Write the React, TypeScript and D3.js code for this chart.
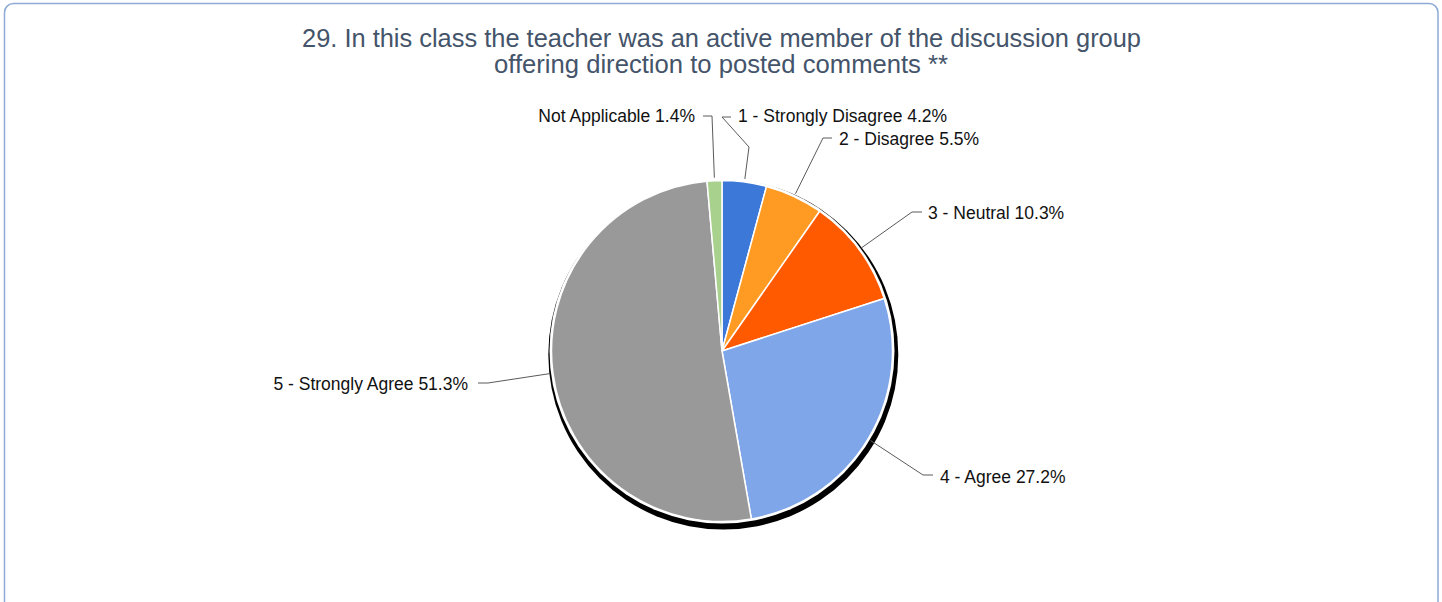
import React from "react";
import * as d3 from "d3";

const titleLines = [
  "29. In this class the teacher was an active member of the discussion group",
  "offering direction to posted comments **",
];
const categories = [
  "1 - Strongly Disagree",
  "2 - Disagree",
  "3 - Neutral",
  "4 - Agree",
  "5 - Strongly Agree",
  "Not Applicable",
];
const percents = [4.2, 5.5, 10.3, 27.2, 51.3, 1.4];
const sliceColors = ["#3c78d8", "#ff9a22", "#ff5a00", "#7ea6e8", "#999999", "#a9d18e"];

// label layout: text position, anchor, and leader bend points (from label side toward the pie)
const labelLayout = [
  { tx: 738, ty: 116, anchor: "start", pts: [[731, 117], [722, 117], [749, 147]] },
  { tx: 839, ty: 139, anchor: "start", pts: [[832, 138], [823, 138]] },
  { tx: 928, ty: 213, anchor: "start", pts: [[922, 212], [912, 212]] },
  { tx: 940, ty: 477, anchor: "start", pts: [[933, 475], [923, 475]] },
  { tx: 468, ty: 384, anchor: "end", pts: [[478, 383], [488, 383]] },
  { tx: 695, ty: 116, anchor: "end", pts: [[703, 116], [712, 116]] },
];

const W = 1442;
const H = 602;
const cx = 722;
const cy = 351;
const R = 170.5;

export default function App() {
  const pie = d3.pie<number>().sort(null).value((d) => d);
  const arcs = pie(percents);
  const arcGen = d3.arc<d3.PieArcDatum<number>>().innerRadius(0).outerRadius(R);
  const line = d3.line();
  const font = "'Liberation Sans', Arial, sans-serif";

  return (
    <svg
      width={W}
      height={H}
      style={{ position: "absolute", left: 0, top: 0, display: "block" }}
      xmlns="http://www.w3.org/2000/svg"
    >
      <rect x={0} y={0} width={W} height={H} fill="#ffffff" />
      <rect
        x={4.5}
        y={3.5}
        width={1433.5}
        height={H + 20}
        rx={9}
        ry={9}
        fill="#ffffff"
        stroke="#8eaad6"
        strokeWidth={1.5}
      />
      <text
        x={721.5}
        y={46.5}
        textAnchor="middle"
        fontFamily={font}
        fontSize={25}
        fill="#44546a"
        textLength={839}
        lengthAdjust="spacingAndGlyphs"
      >
        {titleLines[0]}
      </text>
      <text
        x={721}
        y={73}
        textAnchor="middle"
        fontFamily={font}
        fontSize={25}
        fill="#44546a"
        textLength={454}
        lengthAdjust="spacingAndGlyphs"
      >
        {titleLines[1]}
      </text>

      {/* shadow + outline */}
      <circle cx={cx + 1.3} cy={cy + 3.5} r={R + 4.5} fill="#000000" />
      <circle cx={cx} cy={cy} r={R + 2} fill="#ffffff" />

      <g transform={`translate(${cx},${cy})`}>
        {arcs.map((a, i) => (
          <path
            key={categories[i]}
            d={arcGen(a) || ""}
            fill={sliceColors[i]}
            stroke="#ffffff"
            strokeWidth={1.5}
            strokeLinejoin="round"
          />
        ))}
      </g>

      {arcs.map((a, i) => {
        const mid = (a.startAngle + a.endAngle) / 2;
        const ar = R + 3;
        const ax = cx + ar * Math.sin(mid);
        const ay = cy - ar * Math.cos(mid);
        const lay = labelLayout[i];
        const pts = [...lay.pts, [ax, ay]] as [number, number][];
        return (
          <g key={"lbl" + i}>
            <path d={line(pts) || ""} fill="none" stroke="#5a5a5a" strokeWidth={1} />
            <text
              x={lay.tx}
              y={lay.ty + 6}
              textAnchor={lay.anchor as any}
              fontFamily={font}
              fontSize={17.5}
              fill="#111111"
            >
              {`${categories[i]} ${percents[i].toFixed(1)}%`}
            </text>
          </g>
        );
      })}
    </svg>
  );
}
